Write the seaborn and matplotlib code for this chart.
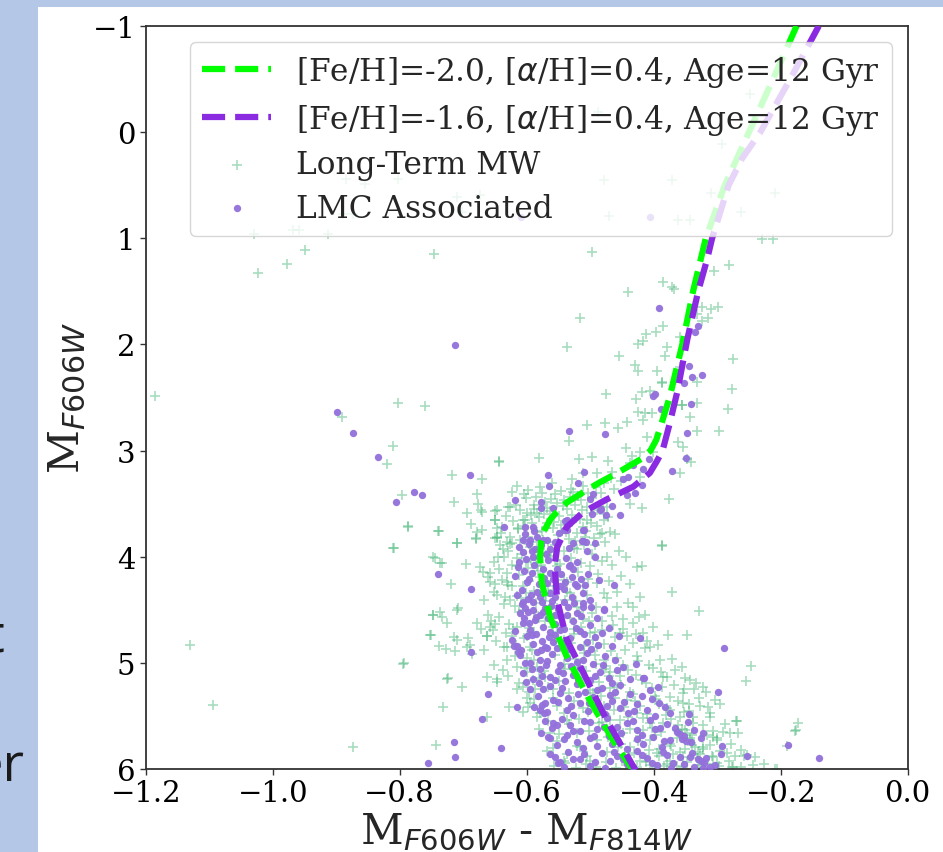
import matplotlib
matplotlib.use("Agg")
import matplotlib.pyplot as plt
from matplotlib.patches import Rectangle
import seaborn as sns
import pandas as pd

# ---------------- data ----------------
iso_feh20_color = [-0.175, -0.212, -0.250, -0.288, -0.318, -0.338, -0.355, -0.375, -0.388, -0.396,
                   -0.405, -0.420, -0.440, -0.460, -0.485, -0.505, -0.537, -0.553, -0.563, -0.572,
                   -0.577, -0.579, -0.576, -0.563, -0.537, -0.501, -0.464, -0.428]
iso_feh20_mag = [-1.0, -0.5, 0.0, 0.5, 1.0, 1.5, 2.0, 2.5, 2.75, 2.9,
                 3.0, 3.08, 3.15, 3.22, 3.30, 3.37, 3.49, 3.58, 3.65, 3.75,
                 3.85, 4.0, 4.25, 4.57, 4.94, 5.35, 5.73, 6.05]

iso_feh16_color = [-0.140, -0.185, -0.232, -0.261, -0.282, -0.308, -0.316, -0.330, -0.347, -0.363,
                   -0.375, -0.386, -0.395, -0.406, -0.432, -0.474, -0.511, -0.537, -0.552, -0.556,
                   -0.552, -0.537, -0.511, -0.474, -0.425]
iso_feh16_mag = [-1.0, -0.5, 0.0, 0.25, 0.5, 1.0, 1.2, 1.5, 1.95, 2.45,
                 2.75, 3.0, 3.1, 3.21, 3.34, 3.46, 3.58, 3.72, 3.91, 4.09,
                 4.41, 4.78, 5.09, 5.54, 6.05]

mw_pts = [
    (-1.185, 2.49), (-1.130, 4.83), (-1.094, 5.40), (-1.023, 1.33), (-0.978, 1.24), (-0.949, 1.11),
    (-0.746, 1.15), (-0.891, 2.68), (-0.803, 2.55), (-0.760, 2.58), (-0.811, 2.96), (-0.820, 3.13),
    (-0.873, 5.79),
    (-0.885, 0.44), (-0.855, 0.49), (-0.803, 0.44), (-0.710, 0.61), (-0.674, 0.59), (-0.702, 0.75),
    (-0.478, 0.45), (-0.371, 0.45), (-0.470, 0.79), (-0.362, 0.83), (-0.343, 0.83), (-0.310, 0.57),
    (-0.209, 0.57), (-0.262, 0.75), (-0.248, -0.36), (-0.292, 0.11), (-0.229, 1.01), (-0.212, 1.01),
    (-0.488, -0.19), (-1.029, 0.96), (-0.968, 0.92), (-0.959, 0.92), (-0.913, 0.96), (-0.873, 0.77),
    (-0.889, 0.77), (-0.497, 1.13), (-0.282, 1.25),
    (-0.305, 1.31), (-0.385, 1.41), (-0.371, 1.46), (-0.368, 1.48), (-0.440, 1.51), (-0.516, 1.75),
    (-0.324, 1.65), (-0.310, 1.67), (-0.299, 1.65), (-0.332, 1.71), (-0.314, 1.75), (-0.324, 1.78),
    (-0.385, 1.83), (-0.396, 1.88), (-0.412, 1.90), (-0.417, 1.97), (-0.425, 2.00), (-0.359, 1.93),
    (-0.379, 2.02), (-0.382, 2.11), (-0.455, 2.11), (-0.275, 2.14), (-0.430, 2.19), (-0.425, 2.25),
    (-0.395, 2.25), (-0.359, 2.21), (-0.387, 2.35), (-0.332, 2.35), (-0.277, 2.42), (-0.475, 2.47),
    (-0.419, 2.45), (-0.406, 2.44), (-0.428, 2.51), (-0.356, 2.57), (-0.283, 2.61), (-0.425, 2.64),
    (-0.414, 2.65), (-0.403, 2.65),
    (-0.537, 2.02), (-0.297, 2.82), (-0.505, 2.76), (-0.533, 2.91), (-0.477, 2.74), (-0.456, 2.79),
    (-0.442, 2.73), (-0.417, 2.71), (-0.411, 2.87), (-0.401, 3.01), (-0.422, 3.01), (-0.444, 2.98),
    (-0.434, 3.05), (-0.472, 3.10), (-0.497, 3.06), (-0.517, 3.08), (-0.580, 3.07), (-0.644, 3.10),
    (-0.717, 3.23), (-0.670, 3.27), (-0.796, 3.42), (-0.714, 3.48), (-0.678, 3.41), (-0.623, 3.39),
    (-0.604, 3.41), (-0.579, 3.34), (-0.560, 3.31), (-0.529, 3.27), (-0.511, 3.21), (-0.489, 3.21),
    (-0.466, 3.20), (-0.437, 3.12), (-0.422, 3.25), (-0.376, 3.46), (-0.418, 3.54), (-0.437, 3.50),
    (-0.479, 3.60), (-0.474, 3.53), (-0.505, 3.53), (-0.505, 3.65), (-0.532, 3.44), (-0.552, 3.49),
    (-0.568, 3.54), (-0.600, 3.59), (-0.626, 3.53), (-0.647, 3.56), (-0.650, 3.65), (-0.670, 3.58),
    (-0.694, 3.59), (-0.787, 3.71), (-0.739, 3.76), (-0.710, 3.87), (-0.680, 3.82), (-0.650, 3.82),
    (-0.348, 3.08), (-0.362, 2.92), (-0.354, 2.97), (-0.359, 3.21), (-0.332, 2.82), (-0.355, 2.57),
    (-0.343, 2.68), (-0.387, 3.90), (-0.484, 3.79), (-0.387, 2.36), (-0.332, 2.55), (-0.341, 3.11),
    (-0.329, 4.51), (-0.347, 4.74), (-0.247, 5.03), (-0.255, 5.17), (-0.336, 5.25), (-0.352, 5.25),
    (-0.344, 5.39), (-0.314, 5.42), (-0.352, 5.46), (-0.338, 5.57), (-0.269, 5.55), (-0.291, 5.65),
    (-0.172, 5.57), (-0.177, 5.64), (-0.316, 5.68), (-0.306, 5.70), (-0.301, 5.73), (-0.340, 5.77),
    (-0.335, 5.79), (-0.322, 5.81), (-0.308, 5.88), (-0.272, 5.88), (-0.258, 5.88), (-0.190, 5.78),
    (-0.226, 5.95), (-0.277, 5.98), (-0.209, 6.00), (-0.350, 5.63), (-0.347, 5.66),
    (-0.644, 3.11), (-0.676, 3.50), (-0.672, 3.56), (-0.650, 3.57), (-0.787, 3.72), (-0.738, 3.76),
    (-0.688, 3.69), (-0.670, 3.75), (-0.650, 3.65), (-0.647, 3.73), (-0.630, 3.53), (-0.614, 3.73),
    (-0.809, 3.92), (-0.744, 4.01), (-0.733, 4.06), (-0.710, 3.87), (-0.680, 3.83), (-0.696, 4.07),
    (-0.674, 4.10), (-0.669, 4.14), (-0.658, 4.15), (-0.647, 3.82), (-0.642, 3.89), (-0.636, 4.00),
    (-0.631, 3.86), (-0.623, 3.87), (-0.639, 4.22), (-0.631, 4.24), (-0.650, 4.26), (-0.658, 4.24),
    (-0.647, 4.36), (-0.636, 4.45), (-0.623, 4.28), (-0.615, 4.37), (-0.748, 4.55), (-0.736, 4.52),
    (-0.733, 4.57), (-0.726, 4.62), (-0.708, 4.48), (-0.678, 4.62), (-0.661, 4.55), (-0.656, 4.61),
    (-0.653, 4.69), (-0.650, 4.63), (-0.662, 4.75), (-0.751, 4.74), (-0.738, 4.84), (-0.727, 4.87),
    (-0.714, 4.76), (-0.713, 4.89), (-0.692, 4.77), (-0.689, 4.83), (-0.686, 4.92), (-0.636, 4.85),
    (-0.623, 4.75), (-0.621, 4.68), (-0.793, 5.00), (-0.726, 5.15), (-0.702, 5.23), (-0.647, 5.15),
    (-0.732, 5.42), (-0.662, 5.51), (-0.628, 5.42), (-0.743, 5.77), (-0.615, 5.25), (-0.600, 5.33),
    (-0.595, 5.38), (-0.598, 5.42), (-0.579, 5.47), (-0.600, 5.09), (-0.590, 5.16), (-0.600, 4.95),
    (-0.595, 4.85), (-0.810, 3.92), (-0.795, 5.01),
    (-0.387, 3.89), (-0.371, 4.33), (-0.270, 5.55), (-0.176, 5.63), (-0.306, 5.89), (-0.206, 6.00),
    (-0.427, 4.10), (-0.418, 4.09), (-0.444, 4.00), (-0.474, 4.00), (-0.433, 4.47), (-0.423, 4.57),
    (-0.464, 4.64), (-0.453, 4.72), (-0.442, 4.75), (-0.433, 4.81), (-0.414, 4.86), (-0.427, 4.94),
    (-0.401, 5.05), (-0.367, 5.07), (-0.387, 5.23), (-0.374, 5.32), (-0.354, 5.28), (-0.354, 5.38),
    (-0.327, 5.41), (-0.338, 5.51), (-0.359, 5.51), (-0.374, 5.44), (-0.385, 5.57), (-0.363, 5.63),
    (-0.343, 5.73), (-0.322, 5.79), (-0.301, 5.71), (-0.354, 5.89), (-0.332, 5.90), (-0.374, 5.92),
    (-0.395, 5.85), (-0.406, 5.73), (-0.417, 5.63), (-0.427, 5.47), (-0.442, 5.35), (-0.458, 5.23),
    (-0.469, 5.09), (-0.479, 4.97), (-0.490, 4.85), (-0.500, 4.72), (-0.511, 4.59), (-0.521, 4.47),
    (-0.532, 4.34), (-0.542, 4.22), (-0.552, 4.09), (-0.563, 3.96), (-0.574, 3.84), (-0.479, 3.65),
    (-0.489, 3.56), (-0.511, 3.72), (-0.469, 3.77), (-0.521, 3.93), (-0.500, 4.09), (-0.489, 4.25),
    (-0.479, 4.34), (-0.511, 4.28), (-0.458, 4.47), (-0.448, 4.59), (-0.417, 4.72), (-0.406, 4.85),
    (-0.390, 4.97), (-0.379, 5.13), (-0.343, 5.16), (-0.322, 5.23), (-0.303, 5.35), (-0.311, 5.51),
    (-0.280, 5.66), (-0.285, 5.85), (-0.253, 5.87),
    (-0.747, 4.00), (-0.736, 4.06), (-0.720, 4.26), (-0.710, 4.50), (-0.747, 4.55), (-0.752, 4.74),
    (-0.710, 4.78), (-0.694, 4.85), (-0.724, 5.14), (-0.663, 5.13), (-0.647, 5.18), (-0.631, 4.85),
    (-0.663, 4.75), (-0.658, 4.66), (-0.631, 4.97), (-0.615, 5.04), (-0.606, 5.23), (-0.587, 5.25),
    (-0.584, 5.51), (-0.563, 5.66), (-0.558, 5.80), (-0.542, 5.92), (-0.606, 4.28), (-0.615, 4.09),
    (-0.631, 4.15), (-0.626, 4.41), (-0.606, 4.50), (-0.615, 4.66), (-0.600, 4.75), (-0.592, 4.88),
    (-0.584, 5.04), (-0.571, 5.13), (-0.558, 5.25), (-0.552, 5.41), (-0.536, 5.54), (-0.521, 5.66),
    (-0.516, 5.79), (-0.500, 5.92), (-0.645, 4.00), (-0.647, 3.81), (-0.678, 3.77), (-0.639, 3.72),
    (-0.606, 3.65), (-0.584, 3.59), (-0.584, 3.77), (-0.568, 3.68), (-0.595, 3.91), (-0.584, 4.09),
    (-0.574, 4.28), (-0.563, 4.47), (-0.558, 4.66), (-0.542, 4.78), (-0.532, 4.94), (-0.516, 5.04),
    (-0.511, 5.16), (-0.495, 5.28), (-0.479, 5.41), (-0.469, 5.54), (-0.448, 5.66), (-0.437, 5.79),
    (-0.421, 5.92), (-0.406, 5.96), (-0.354, 5.98), (-0.327, 5.96), (-0.301, 5.94), (-0.275, 5.98),
    (-0.601, 3.45), (-0.589, 3.51), (-0.576, 3.40), (-0.561, 3.46), (-0.546, 3.38), (-0.531, 3.36),
    (-0.519, 3.43), (-0.611, 3.56), (-0.594, 3.61), (-0.581, 3.63), (-0.564, 3.57), (-0.549, 3.62),
    (-0.536, 3.55), (-0.524, 3.51), (-0.514, 3.47), (-0.504, 3.40), (-0.491, 3.34), (-0.479, 3.31),
    (-0.468, 3.26), (-0.621, 3.66), (-0.604, 3.71), (-0.591, 3.68), (-0.576, 3.76), (-0.559, 3.73),
    (-0.546, 3.70), (-0.529, 3.67), (-0.516, 3.64), (-0.499, 3.59), (-0.626, 3.81), (-0.611, 3.84),
    (-0.596, 3.88), (-0.579, 3.93), (-0.566, 3.86), (-0.551, 3.80), (-0.534, 3.83), (-0.521, 3.78),
    (-0.506, 3.76), (-0.489, 3.71), (-0.629, 3.95), (-0.616, 4.01), (-0.601, 4.05), (-0.586, 4.02),
    (-0.569, 3.98), (-0.556, 4.03), (-0.541, 3.95), (-0.526, 3.92), (-0.509, 3.89), (-0.494, 3.82),
    (-0.481, 3.78),
    (-0.472, 5.70), (-0.452, 5.76), (-0.431, 5.85), (-0.412, 5.90), (-0.392, 5.81), (-0.369, 5.86),
    (-0.351, 5.81), (-0.331, 5.84), (-0.402, 5.61), (-0.381, 5.49), (-0.362, 5.59), (-0.441, 5.51),
    (-0.462, 5.44), (-0.483, 5.31), (-0.502, 5.19), (-0.522, 5.11), (-0.541, 5.01), (-0.503, 5.46),
    (-0.482, 5.56), (-0.461, 5.64), (-0.443, 5.94), (-0.383, 5.97), (-0.364, 5.71), (-0.421, 5.41),
    (-0.398, 5.31), (-0.451, 5.21), (-0.471, 5.12), (-0.491, 5.01), (-0.509, 4.91), (-0.531, 4.81),
    (-0.552, 4.71), (-0.571, 4.61), (-0.589, 4.52), (-0.609, 4.39), (-0.482, 4.69), (-0.502, 4.61),
    (-0.518, 4.52), (-0.539, 4.41), (-0.558, 4.31), (-0.579, 4.19), (-0.598, 4.11), (-0.468, 4.89),
    (-0.449, 5.02), (-0.428, 5.11), (-0.412, 5.19), (-0.392, 5.39), (-0.544, 4.56), (-0.526, 4.68),
    (-0.571, 4.42), (-0.589, 4.32), (-0.496, 4.78), (-0.478, 5.06), (-0.433, 5.29), (-0.417, 5.52),
    (-0.398, 5.68), (-0.372, 5.78),
    (-0.615, 3.33), (-0.598, 3.37), (-0.585, 3.44), (-0.571, 3.48), (-0.556, 3.41), (-0.541, 3.47),
    (-0.527, 3.39), (-0.512, 3.33), (-0.497, 3.45), (-0.483, 3.40), (-0.462, 3.36), (-0.451, 3.29),
    (-0.632, 3.62), (-0.617, 3.51), (-0.603, 3.65), (-0.588, 3.55), (-0.572, 3.60), (-0.557, 3.67),
    (-0.543, 3.52), (-0.529, 3.61), (-0.513, 3.56), (-0.498, 3.68), (-0.486, 3.52), (-0.472, 3.63),
    (-0.641, 3.78), (-0.627, 3.88), (-0.613, 3.74), (-0.598, 3.81), (-0.583, 3.86), (-0.569, 3.73),
    (-0.555, 3.89), (-0.538, 3.77), (-0.524, 3.85), (-0.508, 3.81), (-0.493, 3.89), (-0.476, 3.86),
    (-0.461, 3.79),
    (-0.652, 4.05), (-0.638, 3.93), (-0.623, 4.08), (-0.608, 3.97), (-0.593, 4.03), (-0.578, 4.08),
    (-0.562, 3.99), (-0.547, 4.07), (-0.531, 4.01), (-0.515, 4.06), (-0.497, 3.97), (-0.482, 4.04),
    (-0.466, 4.08), (-0.455, 3.95),
    (-0.661, 4.19), (-0.644, 4.12), (-0.629, 4.27), (-0.612, 4.17), (-0.597, 4.23), (-0.582, 4.13),
    (-0.567, 4.28), (-0.551, 4.18), (-0.536, 4.24), (-0.519, 4.14), (-0.503, 4.21), (-0.487, 4.16),
    (-0.471, 4.23), (-0.452, 4.18), (-0.437, 4.26),
    (-0.668, 4.41), (-0.651, 4.33), (-0.634, 4.38), (-0.619, 4.46), (-0.601, 4.34), (-0.586, 4.44),
    (-0.569, 4.37), (-0.553, 4.48), (-0.537, 4.33), (-0.522, 4.42), (-0.505, 4.36), (-0.491, 4.47),
    (-0.474, 4.39), (-0.458, 4.33), (-0.441, 4.44), (-0.422, 4.38),
    (-0.672, 4.68), (-0.644, 4.57), (-0.628, 4.63), (-0.612, 4.52), (-0.596, 4.67), (-0.581, 4.58),
    (-0.565, 4.54), (-0.548, 4.64), (-0.532, 4.58), (-0.514, 4.66), (-0.497, 4.53), (-0.481, 4.61),
    (-0.466, 4.56), (-0.449, 4.68), (-0.432, 4.62), (-0.413, 4.55), (-0.401, 4.66),
    (-0.667, 4.88), (-0.649, 4.79), (-0.633, 4.72), (-0.617, 4.83), (-0.604, 4.77), (-0.588, 4.71),
    (-0.573, 4.86), (-0.557, 4.78), (-0.541, 4.89), (-0.525, 4.73), (-0.509, 4.84), (-0.493, 4.71),
    (-0.478, 4.82), (-0.461, 4.76), (-0.445, 4.88), (-0.428, 4.73), (-0.411, 4.79), (-0.393, 4.83),
    (-0.378, 4.74),
    (-0.652, 5.02), (-0.637, 5.07), (-0.619, 4.94), (-0.603, 5.05), (-0.588, 4.97), (-0.572, 5.08),
    (-0.556, 4.93), (-0.539, 5.06), (-0.523, 4.96), (-0.507, 5.08), (-0.492, 4.93), (-0.475, 5.03),
    (-0.458, 4.95), (-0.441, 5.07), (-0.424, 4.98), (-0.407, 5.02), (-0.389, 5.09), (-0.371, 4.96),
    (-0.355, 5.04),
    (-0.629, 5.12), (-0.612, 5.19), (-0.596, 5.27), (-0.581, 5.14), (-0.566, 5.23), (-0.549, 5.17),
    (-0.533, 5.28), (-0.517, 5.13), (-0.501, 5.26), (-0.486, 5.18), (-0.469, 5.24), (-0.453, 5.12),
    (-0.437, 5.27), (-0.419, 5.16), (-0.403, 5.24), (-0.386, 5.13), (-0.368, 5.21), (-0.351, 5.14),
    (-0.333, 5.19), (-0.318, 5.27),
    (-0.606, 5.46), (-0.589, 5.34), (-0.574, 5.41), (-0.558, 5.33), (-0.541, 5.47), (-0.526, 5.36),
    (-0.511, 5.43), (-0.494, 5.35), (-0.477, 5.48), (-0.461, 5.33), (-0.446, 5.42), (-0.429, 5.36),
    (-0.411, 5.48), (-0.396, 5.34), (-0.379, 5.43), (-0.361, 5.36), (-0.345, 5.45), (-0.328, 5.33),
    (-0.312, 5.47), (-0.296, 5.39),
    (-0.581, 5.62), (-0.566, 5.55), (-0.549, 5.67), (-0.533, 5.58), (-0.518, 5.53), (-0.502, 5.64),
    (-0.486, 5.57), (-0.469, 5.68), (-0.453, 5.54), (-0.437, 5.62), (-0.421, 5.69), (-0.406, 5.57),
    (-0.389, 5.65), (-0.372, 5.53), (-0.356, 5.62), (-0.339, 5.68), (-0.322, 5.59), (-0.306, 5.64),
    (-0.288, 5.58), (-0.267, 5.66),
    (-0.568, 5.83), (-0.553, 5.74), (-0.536, 5.86), (-0.521, 5.78), (-0.505, 5.88), (-0.489, 5.73),
    (-0.473, 5.84), (-0.456, 5.79), (-0.441, 5.87), (-0.424, 5.74), (-0.408, 5.82), (-0.391, 5.88),
    (-0.375, 5.76), (-0.358, 5.84), (-0.343, 5.71), (-0.327, 5.86), (-0.311, 5.77), (-0.296, 5.83),
    (-0.279, 5.76), (-0.262, 5.82), (-0.241, 5.89),
    (-0.557, 5.97), (-0.539, 5.94), (-0.523, 5.99), (-0.507, 5.95), (-0.491, 5.98), (-0.475, 5.93),
    (-0.459, 5.99), (-0.443, 5.96), (-0.427, 5.98), (-0.412, 5.93), (-0.396, 5.99), (-0.379, 5.95),
    (-0.363, 5.97), (-0.347, 5.93), (-0.331, 5.99), (-0.314, 5.95), (-0.297, 5.97), (-0.281, 5.92),
    (-0.263, 5.98), (-0.244, 5.96),
]

lmc_pts = [
    (-0.713, 2.01), (-0.899, 2.64), (-0.873, 2.83), (-0.834, 3.06), (-0.777, 3.39), (-0.765, 3.42),
    (-0.806, 3.48), (-0.609, 0.80), (-0.406, 0.80),
    (-0.392, 1.66), (-0.335, 1.88), (-0.331, 1.83), (-0.345, 2.20), (-0.340, 2.31), (-0.324, 2.29),
    (-0.352, 2.36), (-0.401, 2.49), (-0.398, 2.47), (-0.388, 2.61), (-0.341, 2.56), (-0.347, 2.83),
    (-0.349, 3.07), (-0.371, 3.19), (-0.417, 3.17), (-0.440, 3.25), (-0.448, 3.27), (-0.429, 3.40),
    (-0.418, 3.32), (-0.442, 3.42), (-0.466, 3.52), (-0.453, 3.61), (-0.484, 3.56), (-0.497, 3.60),
    (-0.496, 3.41), (-0.501, 3.46), (-0.477, 2.84), (-0.533, 2.82), (-0.510, 3.20), (-0.566, 3.23),
    (-0.565, 3.33), (-0.520, 3.31), (-0.689, 3.23), (-0.618, 3.47), (-0.577, 3.48), (-0.577, 3.54),
    (-0.558, 3.54), (-0.636, 3.72), (-0.603, 3.72), (-0.590, 3.72), (-0.540, 3.66), (-0.537, 3.75),
    (-0.510, 3.75), (-0.527, 3.87), (-0.512, 3.85), (-0.568, 3.84), (-0.606, 3.84), (-0.588, 3.76),
    (-0.432, 3.14), (-0.407, 3.08), (-0.475, 3.61), (-0.483, 3.55),
    (-0.606, 3.96), (-0.614, 4.10), (-0.590, 4.00), (-0.587, 3.93), (-0.574, 3.84), (-0.563, 3.93),
    (-0.566, 4.03), (-0.563, 4.15), (-0.568, 4.25), (-0.563, 4.34), (-0.579, 4.38), (-0.584, 4.33),
    (-0.600, 4.24), (-0.608, 4.31), (-0.606, 4.43), (-0.611, 4.53), (-0.590, 4.50), (-0.574, 4.52),
    (-0.555, 4.55), (-0.542, 4.43), (-0.529, 4.38), (-0.521, 4.28), (-0.529, 4.19), (-0.534, 4.09),
    (-0.538, 4.01), (-0.513, 3.85), (-0.505, 3.95), (-0.492, 4.00), (-0.511, 3.75), (-0.537, 3.65),
    (-0.542, 3.75), (-0.534, 3.92), (-0.524, 4.26), (-0.511, 4.47), (-0.479, 4.50), (-0.501, 4.41),
    (-0.463, 4.27), (-0.508, 4.27), (-0.548, 4.28), (-0.555, 4.38), (-0.687, 4.30), (-0.595, 3.84),
    (-0.740, 4.16), (-0.506, 3.86), (-0.492, 3.87), (-0.532, 4.08), (-0.511, 4.34), (-0.552, 4.12),
    (-0.521, 4.05), (-0.572, 4.20), (-0.592, 4.15), (-0.612, 4.05), (-0.541, 4.30), (-0.598, 4.40),
    (-0.561, 4.46),
    (-0.607, 4.45), (-0.598, 4.52), (-0.590, 4.43), (-0.579, 4.55), (-0.571, 4.48), (-0.560, 4.42),
    (-0.547, 4.56), (-0.535, 4.47), (-0.521, 4.53), (-0.511, 4.44), (-0.479, 4.49),
    (-0.606, 4.62), (-0.595, 4.69), (-0.587, 4.60), (-0.574, 4.66), (-0.563, 4.71), (-0.555, 4.63),
    (-0.542, 4.68), (-0.527, 4.61), (-0.516, 4.70), (-0.500, 4.64), (-0.471, 4.67),
    (-0.623, 4.78), (-0.615, 4.84), (-0.600, 4.75), (-0.590, 4.82), (-0.576, 4.79), (-0.568, 4.86),
    (-0.555, 4.74), (-0.542, 4.81), (-0.532, 4.77), (-0.516, 4.85), (-0.505, 4.80), (-0.492, 4.76),
    (-0.487, 4.83), (-0.421, 4.77),
    (-0.611, 4.93), (-0.595, 5.00), (-0.584, 4.90), (-0.568, 4.98), (-0.560, 4.92), (-0.547, 5.02),
    (-0.536, 4.95), (-0.521, 4.99), (-0.505, 4.91), (-0.495, 5.01), (-0.476, 4.94), (-0.461, 4.97),
    (-0.606, 5.10), (-0.590, 5.15), (-0.579, 5.06), (-0.563, 5.13), (-0.550, 5.08), (-0.539, 5.17),
    (-0.527, 5.11), (-0.516, 5.05), (-0.500, 5.16), (-0.484, 5.09), (-0.471, 5.14), (-0.458, 5.07),
    (-0.417, 5.14), (-0.393, 5.23),
    (-0.595, 5.25), (-0.582, 5.31), (-0.563, 5.22), (-0.547, 5.28), (-0.535, 5.33), (-0.521, 5.20),
    (-0.508, 5.27), (-0.496, 5.32), (-0.481, 5.24), (-0.469, 5.30), (-0.453, 5.21), (-0.437, 5.29),
    (-0.406, 5.26), (-0.403, 5.34),
    (-0.576, 5.40), (-0.568, 5.46), (-0.550, 5.37), (-0.536, 5.44), (-0.527, 5.49), (-0.516, 5.38),
    (-0.503, 5.45), (-0.489, 5.41), (-0.476, 5.48), (-0.465, 5.36), (-0.453, 5.43), (-0.440, 5.47),
    (-0.426, 5.39), (-0.410, 5.44), (-0.398, 5.50), (-0.382, 5.42),
    (-0.571, 5.55), (-0.560, 5.61), (-0.544, 5.53), (-0.532, 5.59), (-0.516, 5.64), (-0.500, 5.56),
    (-0.489, 5.62), (-0.473, 5.52), (-0.458, 5.60), (-0.442, 5.57), (-0.426, 5.63), (-0.406, 5.54),
    (-0.390, 5.61), (-0.379, 5.58), (-0.363, 5.65), (-0.346, 5.56),
    (-0.566, 5.70), (-0.552, 5.77), (-0.536, 5.68), (-0.521, 5.75), (-0.511, 5.80), (-0.500, 5.71),
    (-0.489, 5.78), (-0.471, 5.69), (-0.460, 5.74), (-0.442, 5.81), (-0.426, 5.72), (-0.417, 5.76),
    (-0.401, 5.70), (-0.387, 5.79), (-0.374, 5.73), (-0.358, 5.67), (-0.342, 5.75), (-0.326, 5.71),
    (-0.292, 5.78),
    (-0.563, 5.86), (-0.547, 5.93), (-0.535, 5.84), (-0.516, 5.91), (-0.500, 5.97), (-0.481, 5.85),
    (-0.469, 5.92), (-0.458, 5.88), (-0.442, 5.95), (-0.426, 5.83), (-0.410, 5.90), (-0.395, 5.96),
    (-0.379, 5.87), (-0.369, 5.94), (-0.358, 5.89), (-0.339, 5.85), (-0.326, 5.92), (-0.311, 5.98),
    (-0.253, 5.88), (-0.188, 5.77),
    (-0.289, 4.86), (-0.299, 5.27), (-0.323, 5.66), (-0.140, 5.90), (-0.661, 5.29), (-0.615, 5.42),
    (-0.670, 5.53), (-0.641, 5.80), (-0.550, 5.94), (-0.344, 5.48), (-0.355, 5.72), (-0.349, 5.74),
    (-0.343, 5.89), (-0.330, 5.91), (-0.321, 5.94), (-0.294, 5.86), (-0.323, 5.99), (-0.688, 4.90),
    (-0.714, 5.75), (-0.713, 5.89), (-0.755, 5.94), (-0.614, 4.90), (-0.620, 4.84),
    (-0.415, 5.14), (-0.603, 5.00), (-0.605, 4.58), (-0.592, 4.74), (-0.579, 4.97), (-0.571, 4.85),
    (-0.558, 4.80), (-0.580, 5.19), (-0.571, 5.38), (-0.579, 5.44), (-0.573, 5.47), (-0.558, 5.57),
    (-0.563, 5.71),
    (-0.603, 3.79), (-0.597, 3.88), (-0.591, 3.95), (-0.583, 3.81), (-0.578, 3.89), (-0.569, 3.97),
    (-0.556, 3.86), (-0.549, 3.78), (-0.612, 3.91), (-0.601, 4.02),
    (-0.618, 4.18), (-0.604, 4.13), (-0.596, 4.21), (-0.588, 4.08), (-0.581, 4.26), (-0.575, 4.12),
    (-0.558, 4.21), (-0.546, 4.16), (-0.539, 4.24), (-0.527, 4.12), (-0.515, 4.21), (-0.503, 4.16),
    (-0.486, 4.22),
    (-0.615, 4.36), (-0.603, 4.48), (-0.594, 4.36), (-0.585, 4.57), (-0.576, 4.43), (-0.566, 4.58),
    (-0.551, 4.49), (-0.537, 4.55), (-0.526, 4.44), (-0.514, 4.56), (-0.498, 4.47), (-0.489, 4.58),
    (-0.618, 4.70), (-0.609, 4.88), (-0.597, 4.62), (-0.586, 4.73), (-0.578, 4.88), (-0.565, 4.76),
    (-0.552, 4.86), (-0.547, 4.69), (-0.535, 4.87), (-0.522, 4.67), (-0.509, 4.73), (-0.498, 4.87),
    (-0.481, 4.72), (-0.466, 4.84), (-0.455, 4.75),
    (-0.601, 5.18), (-0.591, 5.06), (-0.576, 5.12), (-0.569, 5.02), (-0.556, 5.16), (-0.543, 5.10),
    (-0.531, 5.03), (-0.519, 5.15), (-0.511, 4.97), (-0.492, 5.12), (-0.480, 5.02), (-0.466, 5.19),
    (-0.449, 5.04), (-0.437, 5.15), (-0.428, 5.01),
    (-0.588, 5.42), (-0.575, 5.25), (-0.558, 5.35), (-0.544, 5.24), (-0.531, 5.41), (-0.519, 5.29),
    (-0.502, 5.38), (-0.489, 5.26), (-0.474, 5.41), (-0.461, 5.27), (-0.446, 5.37), (-0.431, 5.45),
    (-0.418, 5.31), (-0.392, 5.38), (-0.375, 5.47),
    (-0.577, 5.66), (-0.553, 5.59), (-0.541, 5.72), (-0.527, 5.64), (-0.509, 5.55), (-0.494, 5.69),
    (-0.479, 5.60), (-0.466, 5.76), (-0.451, 5.66), (-0.433, 5.55), (-0.418, 5.68), (-0.398, 5.62),
    (-0.383, 5.74), (-0.367, 5.61), (-0.352, 5.69), (-0.336, 5.63),
    (-0.556, 5.89), (-0.541, 5.98), (-0.527, 5.91), (-0.509, 5.86), (-0.492, 5.93), (-0.476, 5.99),
    (-0.463, 5.84), (-0.449, 5.91), (-0.433, 5.98), (-0.418, 5.87), (-0.402, 5.94), (-0.386, 5.84),
    (-0.372, 5.99), (-0.353, 5.95), (-0.336, 5.98), (-0.318, 5.90), (-0.304, 5.96),
]

labels_iso = ["[Fe/H]=-2.0, [$\\alpha$/H]=0.4, Age=12 Gyr",
              "[Fe/H]=-1.6, [$\\alpha$/H]=0.4, Age=12 Gyr"]
label_mw = "Long-Term MW"
label_lmc = "LMC Associated"

mw = pd.DataFrame(mw_pts, columns=["color", "mag"])
lmc = pd.DataFrame(lmc_pts, columns=["color", "mag"])
iso20 = pd.DataFrame({"color": iso_feh20_color, "mag": iso_feh20_mag})
iso16 = pd.DataFrame({"color": iso_feh16_color, "mag": iso_feh16_mag})

# ---------------- style ----------------
sns.set_theme(style="ticks")
plt.rcParams["font.family"] = ["DejaVu Serif"]
plt.rcParams["mathtext.fontset"] = "dejavusans"
plt.rcParams["axes.edgecolor"] = "#333333"
plt.rcParams["xtick.color"] = "#333333"
plt.rcParams["ytick.color"] = "#333333"
plt.rcParams["xtick.labelcolor"] = "black"
plt.rcParams["ytick.labelcolor"] = "black"

fig = plt.figure(figsize=(9.43, 8.53), dpi=100, facecolor="#b4c7e7")
fig.patches.append(Rectangle((38 / 943, 0), 1, (853 - 8) / 853, transform=fig.transFigure,
                             facecolor="white", edgecolor="none", zorder=-10))
ax = fig.add_axes([145.7 / 943, 83 / 853, 762 / 943, 743 / 853])
ax.set_zorder(1)

sns.scatterplot(data=mw, x="color", y="mag", ax=ax, marker="+", s=46, linewidth=1.2,
                color="mediumseagreen", alpha=0.45, label=label_mw, zorder=2)
sns.scatterplot(data=lmc, x="color", y="mag", ax=ax, marker="o", s=28, linewidth=0,
                color="mediumpurple", alpha=0.95, label=label_lmc, zorder=3)
sns.lineplot(data=iso20, x="color", y="mag", ax=ax, sort=False, estimator=None,
             color="lime", lw=4.5, linestyle="--", label=labels_iso[0], zorder=4)
sns.lineplot(data=iso16, x="color", y="mag", ax=ax, sort=False, estimator=None,
             color="blueviolet", lw=4.5, linestyle="--", label=labels_iso[1], zorder=4)

ax.set_xlim(-1.2, 0.0)
ax.set_ylim(6, -1)
ax.set_xticks([-1.2, -1.0, -0.8, -0.6, -0.4, -0.2, 0.0])
ax.set_yticks([-1, 0, 1, 2, 3, 4, 5, 6])
ax.tick_params(labelsize=21, length=4, width=1)
for sp in ax.spines.values():
    sp.set_linewidth(1.3)
ax.set_xlabel("M$_{F606W}$ - M$_{F814W}$", fontsize=30, labelpad=2)
ax.set_ylabel("M$_{F606W}$", fontsize=31, labelpad=3)

h, l = ax.get_legend_handles_labels()
order = [l.index(labels_iso[0]), l.index(labels_iso[1]), l.index(label_mw), l.index(label_lmc)]
leg = ax.legend([h[i] for i in order], [l[i] for i in order], loc="upper right", fontsize=22.5,
                handlelength=2.2, handletextpad=0.8, labelspacing=0.4, framealpha=0.8)
leg.set_zorder(10)

# fragments of neighbouring poster text
fig.text(24 / 943, 1 - 782 / 853, "er", fontsize=38, ha="right", va="baseline",
         color="#1a1a1a", family="Open Sans", zorder=5)
fig.text(4 / 943, 1 - 652 / 853, "t", fontsize=38, ha="right", va="baseline",
         color="#1a1a1a", family="Open Sans", zorder=5)

fig.savefig("out.png", dpi=100, facecolor=fig.get_facecolor())
